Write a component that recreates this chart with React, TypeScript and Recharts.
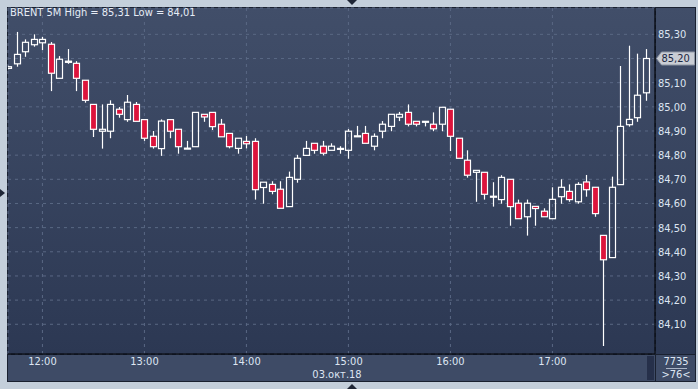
import React from 'react';
import { ComposedChart, Bar, XAxis, YAxis, CartesianGrid, ReferenceLine } from 'recharts';

// 5-minute bars, 11:40 .. 17:55
const times = [
  '11:40', '11:45', '11:50', '11:55',
  '12:00', '12:05', '12:10', '12:15', '12:20', '12:25', '12:30', '12:35', '12:40', '12:45', '12:50', '12:55',
  '13:00', '13:05', '13:10', '13:15', '13:20', '13:25', '13:30', '13:35', '13:40', '13:45', '13:50', '13:55',
  '14:00', '14:05', '14:10', '14:15', '14:20', '14:25', '14:30', '14:35', '14:40', '14:45', '14:50', '14:55',
  '15:00', '15:05', '15:10', '15:15', '15:20', '15:25', '15:30', '15:35', '15:40', '15:45', '15:50', '15:55',
  '16:00', '16:05', '16:10', '16:15', '16:20', '16:25', '16:30', '16:35', '16:40', '16:45', '16:50', '16:55',
  '17:00', '17:05', '17:10', '17:15', '17:20', '17:25', '17:30', '17:35', '17:40', '17:45', '17:50', '17:55',
];

const opens = [
  85.159, 85.178, 85.228, 85.257, 85.265, 85.259, 85.118, 85.184, 85.180, 85.110,
  85.010, 84.899, 84.899, 84.990, 84.947, 85.010, 84.947, 84.878, 84.827, 84.947,
  84.907, 84.827, 84.835, 84.969, 84.977, 84.928, 84.890, 84.828, 84.857, 84.857,
  84.666, 84.679, 84.659, 84.587, 84.700, 84.799, 84.849, 84.837, 84.820, 84.826,
  84.820, 84.879, 84.890, 84.837, 84.899, 84.919, 84.957, 84.977, 84.940, 84.940,
  84.928, 84.928, 84.990, 84.870, 84.779, 84.729, 84.729, 84.630, 84.616, 84.700,
  84.601, 84.545, 84.588, 84.568, 84.537, 84.628, 84.650, 84.607, 84.689, 84.667,
  84.468, 84.376, 84.678, 84.926, 84.955, 85.058,
];
const highs = [
  85.170, 85.310, 85.279, 85.300, 85.289, 85.268, 85.210, 85.239, 85.189, 85.110,
  85.010, 85.010, 85.027, 84.999, 85.049, 85.020, 84.947, 84.900, 84.948, 84.947,
  84.907, 84.859, 84.977, 84.969, 84.977, 84.950, 84.890, 84.870, 84.879, 84.870,
  84.688, 84.692, 84.692, 84.732, 84.801, 84.859, 84.849, 84.859, 84.849, 84.837,
  84.908, 84.921, 84.921, 84.890, 84.941, 84.969, 84.979, 85.010, 84.940, 84.941,
  84.977, 84.998, 84.990, 84.870, 84.820, 84.737, 84.729, 84.688, 84.717, 84.700,
  84.616, 84.616, 84.588, 84.580, 84.667, 84.700, 84.679, 84.688, 84.718, 84.667,
  84.468, 84.711, 85.169, 85.253, 85.220, 85.239,
];
const lows = [
  85.155, 85.166, 85.207, 85.249, 85.235, 85.065, 85.118, 85.178, 85.065, 85.017,
  84.875, 84.827, 84.870, 84.955, 84.938, 84.940, 84.859, 84.827, 84.797, 84.870,
  84.806, 84.827, 84.835, 84.938, 84.904, 84.876, 84.828, 84.806, 84.828, 84.616,
  84.599, 84.638, 84.580, 84.587, 84.686, 84.799, 84.806, 84.799, 84.820, 84.806,
  84.785, 84.879, 84.849, 84.820, 84.870, 84.899, 84.941, 84.919, 84.919, 84.919,
  84.899, 84.899, 84.817, 84.787, 84.707, 84.607, 84.616, 84.587, 84.599, 84.508,
  84.537, 84.467, 84.508, 84.545, 84.537, 84.599, 84.607, 84.599, 84.628, 84.545,
  84.010, 84.376, 84.678, 84.918, 84.938, 85.025,
];
const closes = [
  85.166, 85.217, 85.267, 85.279, 85.279, 85.139, 85.197, 85.189, 85.118, 85.027,
  84.907, 84.907, 85.010, 84.969, 85.019, 84.940, 84.870, 84.835, 84.941, 84.899,
  84.835, 84.829, 84.977, 84.958, 84.918, 84.876, 84.835, 84.870, 84.847, 84.657,
  84.688, 84.650, 84.580, 84.708, 84.787, 84.828, 84.820, 84.808, 84.837, 84.828,
  84.899, 84.880, 84.849, 84.878, 84.928, 84.969, 84.969, 84.928, 84.928, 84.940,
  84.909, 84.998, 84.878, 84.787, 84.717, 84.737, 84.638, 84.630, 84.708, 84.587,
  84.537, 84.601, 84.579, 84.545, 84.617, 84.667, 84.616, 84.679, 84.657, 84.558,
  84.367, 84.667, 84.919, 84.948, 85.048, 85.200,
];

const priceTicks = [84.1, 84.2, 84.3, 84.4, 84.5, 84.6, 84.7, 84.8, 84.9, 85.0, 85.1, 85.2, 85.3];
const hourTicks = [4, 16, 28, 40, 52, 64];
const lastPrice = 85.2;

const data = times.map((t, i) => ({
  i,
  t,
  o: opens[i],
  h: highs[i],
  l: lows[i],
  c: closes[i],
  range: [lows[i], highs[i]],
}));

const FONT = '"Liberation Sans Narrow", "DejaVu Sans Condensed", "Liberation Sans", Arial, sans-serif';
const TEXT = '#dde5f2';
const fmt = (v: number) => v.toFixed(2).replace('.', ',');
// the last-price tag sits on top of its own tick, so that tick gets no label
const tickFmt = (v: number) => (Math.abs(v - lastPrice) < 1e-6 ? '' : fmt(v));

const Candle = (props: any) => {
  const { x, y, width, height, payload } = props;
  if (!payload) return null;
  const { o, h, l, c } = payload;
  const cx = Math.round(x + width / 2) + 0.5;
  const top = Math.min(y, y + height);
  const span = Math.abs(height);
  const py = (p: number) => top + ((h - p) / (h - l)) * span;
  const bTop = py(Math.max(o, c));
  const bBot = py(Math.min(o, c));
  const up = c >= o;
  return (
    <g>
      <line x1={cx} x2={cx} y1={top} y2={bTop} stroke="#ffffff" strokeWidth={1.2} />
      <line x1={cx} x2={cx} y1={bBot} y2={top + span} stroke="#ffffff" strokeWidth={1.2} />
      <rect
        x={cx - 3}
        y={bTop}
        width={6}
        height={Math.max(bBot - bTop, 1)}
        fill={up ? 'none' : '#dc143c'}
        stroke="#ffffff"
        strokeWidth={1.2}
      />
    </g>
  );
};

const PriceTag = ({ viewBox }: any) => {
  if (!viewBox) return null;
  const x0 = viewBox.x + viewBox.width + 1.5;
  const y = viewBox.y;
  return (
    <g>
      <polygon
        points={`${x0},${y} ${x0 + 5},${y - 6.5} ${x0 + 38},${y - 6.5} ${x0 + 38},${y + 6.5} ${x0 + 5},${y + 6.5}`}
        fill="#c9cdd4"
        stroke="#8e96a4"
        strokeWidth={1}
      />
      <text x={x0 + 5} y={y + 4} fontSize={11} fontFamily={FONT} fill="#1c2742">
        {fmt(lastPrice)}
      </text>
    </g>
  );
};

const abs = (l: number, t: number, w: number, h: number, extra: React.CSSProperties = {}): React.CSSProperties => ({
  position: 'absolute',
  left: l,
  top: t,
  width: w,
  height: h,
  ...extra,
});

export default function App() {
  return (
    <div style={{ position: 'fixed', left: 0, top: 0, width: 698, height: 389, background: '#c4cfdb', overflow: 'hidden', fontFamily: FONT }}>
      {/* panels */}
      <div style={abs(7, 7, 689, 375, { background: '#1a2130' })} />
      <div style={abs(8, 8, 647, 346, { background: 'linear-gradient(#414e69, #2c3853)' })} />
      <div style={abs(656, 8, 39, 346, { background: 'linear-gradient(#414e69, #2c3853)' })} />
      <div style={abs(8, 355, 647, 26, { background: '#3e4b66' })} />
      <div style={abs(656, 355, 39, 26, { background: '#3e4b66' })} />
      <div style={abs(647, 356, 7, 24, { background: '#26304a' })} />

      {/* frame markers */}
      <div style={abs(347, 0, 0, 0, { borderLeft: '5px solid transparent', borderRight: '5px solid transparent', borderTop: '5px solid #1f2636' })} />
      <div style={abs(347, 384, 0, 0, { borderLeft: '5px solid transparent', borderRight: '5px solid transparent', borderBottom: '5px solid #1f2636' })} />
      <div style={abs(0, 189, 0, 0, { borderTop: '4px solid transparent', borderBottom: '4px solid transparent', borderLeft: '5px solid #1f2636' })} />

      <div style={{ position: 'absolute', left: 0, top: 0 }}>
        <ComposedChart width={698} height={389} data={data} margin={{ top: 8, right: 3, bottom: 8, left: 8 }}>
          <CartesianGrid stroke="#5a6884" strokeDasharray="3 4" />
          <XAxis
            dataKey="i"
            type="number"
            domain={[-0.05, 76.07]}
            allowDataOverflow
            ticks={hourTicks}
            tickFormatter={(v: number) => times[v]}
            interval={0}
            height={27}
            tickSize={0}
            tickMargin={3}
            axisLine={{ stroke: '#0b0f18', strokeWidth: 1.5 }}
            tick={{ fill: TEXT, fontSize: 11, fontFamily: FONT }}
          />
          <YAxis
            orientation="right"
            type="number"
            domain={[83.977, 85.409]}
            allowDataOverflow
            ticks={priceTicks}
            interval={0}
            tickFormatter={tickFmt}
            width={40}
            tickSize={0}
            tickMargin={3}
            axisLine={{ stroke: '#0b0f18', strokeWidth: 1.5 }}
            tick={{ fill: TEXT, fontSize: 11, fontFamily: FONT, textAnchor: 'start' }}
          />
          <Bar dataKey="range" barSize={6} shape={<Candle />} isAnimationActive={false} />
          <ReferenceLine y={lastPrice} stroke="none" ifOverflow="visible" label={(p: any) => <PriceTag viewBox={p.viewBox} />} />
        </ComposedChart>
      </div>

      {/* texts */}
      <div style={{ position: 'absolute', left: 10, top: 6, fontSize: 11, color: '#e6ecf6', whiteSpace: 'nowrap' }}>
        BRENT 5M High = 85,31 Low = 84,01
      </div>
      <div style={{ position: 'absolute', left: 297, width: 80, top: 370, fontSize: 11, lineHeight: '10px', color: TEXT, textAlign: 'center' }}>
        03.окт.18
      </div>
      <div style={{ position: 'absolute', left: 657, width: 38, top: 356, fontSize: 11, lineHeight: '11px', color: TEXT, textAlign: 'center' }}>
        7735
      </div>
      <div style={abs(666, 368, 21, 1, { background: '#aab4c6' })} />
      <div style={{ position: 'absolute', left: 657, width: 38, top: 370, fontSize: 11, lineHeight: '10px', color: TEXT, textAlign: 'center' }}>
        &gt;76&lt;
      </div>
    </div>
  );
}
